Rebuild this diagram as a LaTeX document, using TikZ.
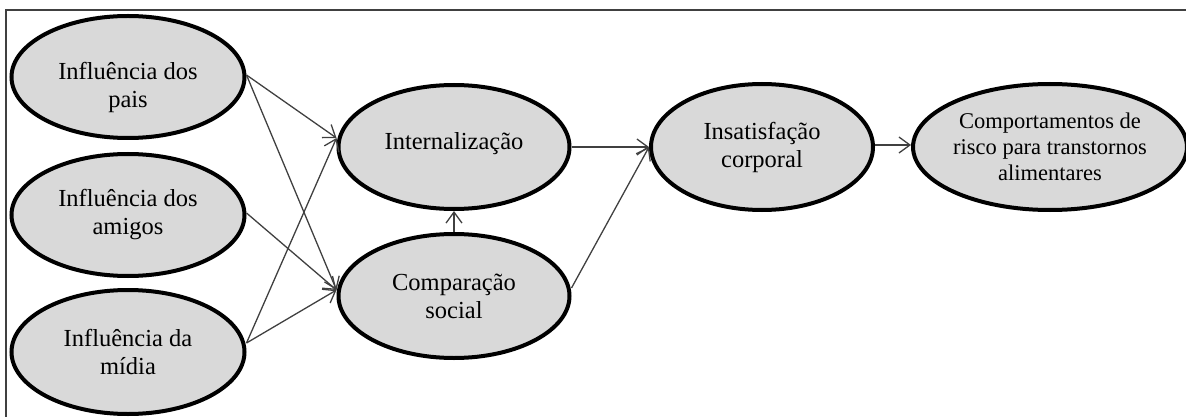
\documentclass[tikz,border=0pt]{standalone}
\usepackage{fontspec}
\setmainfont{Liberation Serif}
\usetikzlibrary{shapes.geometric,arrows.meta}
\definecolor{fillgray}{HTML}{D9D9D9}
\definecolor{linegray}{HTML}{404040}
\tikzset{
  oval/.style={ellipse, draw=black, line width=4pt, fill=fillgray, inner sep=0pt,
    align=center, font=\fontsize{24.5}{28}\selectfont},
  conn/.style={draw=linegray, line width=1.3pt, -{Straight Barb[length=11pt,width=16pt,line width=1.3pt]}},
  frame/.style={draw=linegray, line width=1.5pt}
}
\begin{document}
\begin{tikzpicture}[x=1pt,y=-1pt]
\useasboundingbox (0,0) rectangle (1186,417);
\coordinate (ftl) at (6,10);
\coordinate (ftr) at (1186,10);
\coordinate (fbl) at (6,417);
\draw[frame] (ftr) -- (ftl) -- (fbl);

\node[oval, minimum width=233pt, minimum height=122pt] (pais) at (128,77) {\rule{0pt}{38pt}Influência dos\\pais};
\node[oval, minimum width=233pt, minimum height=122pt] (amigos) at (128,215) {Influência dos\\amigos};
\node[oval, minimum width=233pt, minimum height=124pt] (midia) at (128,352) {Influência da\\mídia};
\node[oval, minimum width=231pt, minimum height=124pt] (int) at (454,147) {Internalização\rule[-12pt]{0pt}{12pt}};
\node[oval, minimum width=231pt, minimum height=124pt] (comp) at (454,296) {Comparação\\social};
\node[oval, minimum width=222pt, minimum height=126pt] (insat) at (762,147) {Insatisfação\\corporal};
\node[oval, minimum width=221pt, minimum height=126pt, font=\fontsize{22.5}{26}\selectfont] (risco) at (1050,147) {Comportamentos de\\risco para transtornos\\alimentares};

\draw[conn] ([yshift=2pt]pais.east) -- ([yshift=9pt]int.west);
\draw[conn] ([yshift=2pt]pais.east) -- ([yshift=6pt]comp.west);
\draw[conn] ([yshift=2pt]amigos.east) -- ([yshift=6pt]comp.west);
\draw[conn] ([yshift=9pt]midia.east) -- ([yshift=9pt]int.west);
\draw[conn] ([yshift=9pt]midia.east) -- ([yshift=6pt]comp.west);
\draw[conn] (int.east) -- (insat.west);
\draw[conn] ([yshift=8pt]comp.east) -- (insat.west);
\draw[conn] (comp.north) -- (int.south);
\draw[conn] ([yshift=2pt]insat.east) -- ([yshift=2pt]risco.west);
\end{tikzpicture}
\end{document}
